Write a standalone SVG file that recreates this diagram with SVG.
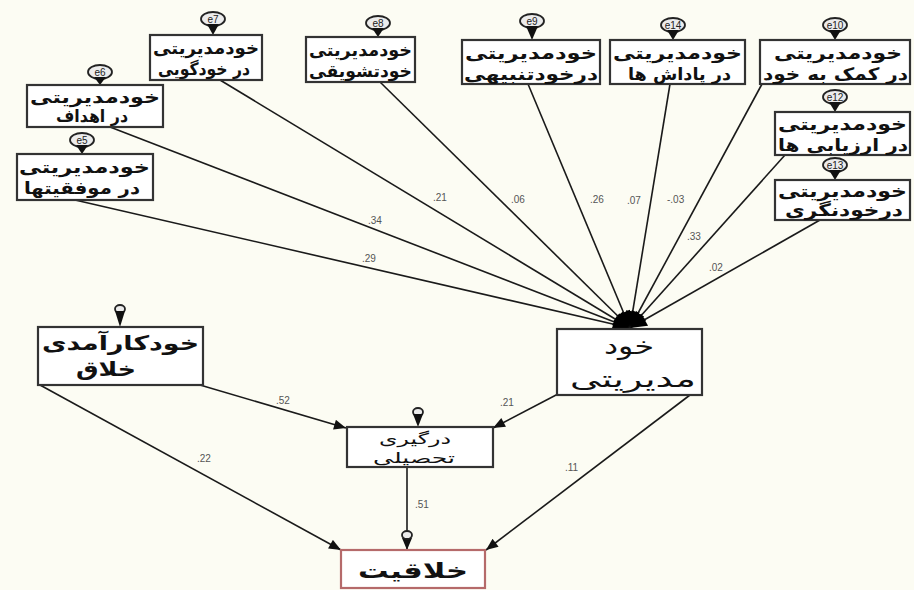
<svg xmlns="http://www.w3.org/2000/svg" width="914" height="590" viewBox="0 0 914 590">
<defs>
<style>
.bx{fill:#ffffff;stroke:#333;stroke-width:2.2}
.bxr{fill:#ffffff;stroke:#b56a6a;stroke-width:2.2}
.t{font-family:"DejaVu Sans",sans-serif;font-size:17px;font-weight:bold;fill:#111;text-anchor:end}
.el{fill:#ececec;stroke:#222;stroke-width:1.8}
.et{font-family:"Liberation Sans",sans-serif;font-size:10px;fill:#222;text-anchor:middle}
.ln{stroke:#1a1a1a;stroke-width:1.6;fill:none}
.lb{font-family:"Liberation Sans",sans-serif;font-size:10px;fill:#555;direction:ltr;unicode-bidi:bidi-override}
.tri{fill:#111}
</style>
<marker id="ar" viewBox="0 0 12 10" refX="12" refY="5" markerWidth="13" markerHeight="10" markerUnits="userSpaceOnUse" orient="auto"><path d="M0,0 L12,5 L0,10 z" fill="#111"/></marker>
<marker id="ab" viewBox="0 0 12 10" refX="12" refY="5" markerWidth="20" markerHeight="14" markerUnits="userSpaceOnUse" orient="auto"><path d="M0,0 L12,5 L0,10 z" fill="#000"/></marker>
</defs>
<rect width="914" height="590" fill="#fcfcf3"/>

<g id="connectors">
<line class="ln" x1="75" y1="200" x2="630" y2="328" marker-end="url(#ab)"/>
<line class="ln" x1="110" y1="127" x2="630" y2="328" marker-end="url(#ab)"/>
<line class="ln" x1="220" y1="80" x2="630" y2="328" marker-end="url(#ab)"/>
<line class="ln" x1="380" y1="82" x2="630" y2="328" marker-end="url(#ab)"/>
<line class="ln" x1="528" y1="84" x2="630" y2="328" marker-end="url(#ab)"/>
<line class="ln" x1="670" y1="84" x2="630" y2="328" marker-end="url(#ab)"/>
<line class="ln" x1="762" y1="84" x2="630" y2="328" marker-end="url(#ab)"/>
<line class="ln" x1="785" y1="155" x2="630" y2="328" marker-end="url(#ab)"/>
<line class="ln" x1="820" y1="220" x2="630" y2="328" marker-end="url(#ab)"/>
<line class="ln" x1="200" y1="385" x2="346" y2="428" marker-end="url(#ar)"/>
<line class="ln" x1="40" y1="385" x2="341" y2="550" marker-end="url(#ar)"/>
<line class="ln" x1="558" y1="394" x2="493" y2="428" marker-end="url(#ar)"/>
<line class="ln" x1="690" y1="395" x2="486" y2="550" marker-end="url(#ar)"/>
<line class="ln" x1="407" y1="467" x2="407" y2="550" marker-end="url(#ar)"/>
<text class="lb" x="362" y="262">.29</text>
<text class="lb" x="368" y="224">.34</text>
<text class="lb" x="433" y="201">.21</text>
<text class="lb" x="511" y="203">.06</text>
<text class="lb" x="590" y="203">.26</text>
<text class="lb" x="627" y="204">.07</text>
<text class="lb" x="667" y="203">-.03</text>
<text class="lb" x="687" y="240">.33</text>
<text class="lb" x="709" y="271">.02</text>
<text class="lb" x="276" y="404">.52</text>
<text class="lb" x="197" y="462">.22</text>
<text class="lb" x="500" y="406">.21</text>
<text class="lb" x="565" y="471">.11</text>
<text class="lb" x="415" y="508">.51</text>
</g>

<g id="n-e5">
<ellipse class="el" cx="82" cy="140" rx="12" ry="7"/><text class="et" x="82" y="144">e5</text>
<polygon class="tri" points="76,145 88,145 82,154"/>
<rect class="bx" x="17" y="154" width="136" height="46"/>
<text class="t" x="150" y="173" textLength="131" lengthAdjust="spacingAndGlyphs">خودمدیریتی</text>
<text class="t" x="140" y="194" textLength="116" lengthAdjust="spacingAndGlyphs">در موفقیتها</text>
</g>
<g id="n-e6">
<ellipse class="el" cx="100" cy="72" rx="12" ry="7"/><text class="et" x="100" y="76">e6</text>
<polygon class="tri" points="94,77 106,77 100,85"/>
<rect class="bx" x="27" y="85" width="136" height="42"/>
<text class="t" x="160" y="103" textLength="130" lengthAdjust="spacingAndGlyphs">خودمدیریتی</text>
<text class="t" x="128" y="122" textLength="72" lengthAdjust="spacingAndGlyphs">در اهداف</text>
</g>
<g id="n-e7">
<ellipse class="el" cx="213" cy="19" rx="12" ry="7"/><text class="et" x="213" y="23">e7</text>
<polygon class="tri" points="207,24 219,24 213,35"/>
<rect class="bx" x="150" y="35" width="112" height="45"/>
<text class="t" x="259" y="54" textLength="106" lengthAdjust="spacingAndGlyphs">خودمدیریتی</text>
<text class="t" x="250" y="75" textLength="92" lengthAdjust="spacingAndGlyphs">در خودگویی</text>
</g>
<g id="n-e8">
<ellipse class="el" cx="378" cy="23" rx="12" ry="7"/><text class="et" x="378" y="27">e8</text>
<polygon class="tri" points="372,28 384,28 378,37"/>
<rect class="bx" x="306" y="37" width="109" height="45"/>
<text class="t" x="412" y="56" textLength="103" lengthAdjust="spacingAndGlyphs">خودمدیریتی</text>
<text class="t" x="412" y="77" textLength="103" lengthAdjust="spacingAndGlyphs">خودتشویقی</text>
</g>
<g id="n-e9">
<ellipse class="el" cx="532" cy="21" rx="12" ry="7"/><text class="et" x="532" y="25">e9</text>
<polygon class="tri" points="526,26 538,26 532,40"/>
<rect class="bx" x="462" y="40" width="138" height="44"/>
<text class="t" x="597" y="59" textLength="132" lengthAdjust="spacingAndGlyphs">خودمدیریتی</text>
<text class="t" x="598" y="80" textLength="134" lengthAdjust="spacingAndGlyphs">درخودتنبیهی</text>
</g>
<g id="n-e14">
<ellipse class="el" cx="673" cy="25" rx="12" ry="7"/><text class="et" x="673" y="29">e14</text>
<polygon class="tri" points="667,30 679,30 673,40"/>
<rect class="bx" x="610" y="40" width="135" height="44"/>
<text class="t" x="742" y="59" textLength="129" lengthAdjust="spacingAndGlyphs">خودمدیریتی</text>
<text class="t" x="731" y="80" textLength="103" lengthAdjust="spacingAndGlyphs">در پاداش ها</text>
</g>
<g id="n-e10">
<ellipse class="el" cx="835" cy="25" rx="12" ry="7"/><text class="et" x="835" y="29">e10</text>
<polygon class="tri" points="829,30 841,30 835,40"/>
<rect class="bx" x="760" y="40" width="150" height="44"/>
<text class="t" x="902" y="59" textLength="128" lengthAdjust="spacingAndGlyphs">خودمدیریتی</text>
<text class="t" x="908" y="80" textLength="145" lengthAdjust="spacingAndGlyphs">در کمک به خود</text>
</g>
<g id="n-e12">
<ellipse class="el" cx="835" cy="97" rx="12" ry="7"/><text class="et" x="835" y="101">e12</text>
<polygon class="tri" points="829,102 841,102 835,112"/>
<rect class="bx" x="775" y="112" width="135" height="43"/>
<text class="t" x="907" y="130" textLength="129" lengthAdjust="spacingAndGlyphs">خودمدیریتی</text>
<text class="t" x="908" y="151" textLength="130" lengthAdjust="spacingAndGlyphs">در ارزیابی ها</text>
</g>
<g id="n-e13">
<ellipse class="el" cx="835" cy="165" rx="12" ry="7"/><text class="et" x="835" y="169">e13</text>
<polygon class="tri" points="829,170 841,170 835,180"/>
<rect class="bx" x="775" y="180" width="135" height="40"/>
<text class="t" x="907" y="197" textLength="129" lengthAdjust="spacingAndGlyphs">خودمدیریتی</text>
<text class="t" x="903" y="216" textLength="118" lengthAdjust="spacingAndGlyphs">درخودنگری</text>
</g>

<g id="n-selfmgmt">
<rect class="bx" x="557" y="329" width="145" height="66"/>
<text class="t" style="font-size:23px;font-weight:normal" x="654" y="354" textLength="50" lengthAdjust="spacingAndGlyphs">خود</text>
<text class="t" style="font-size:23px;font-weight:normal" x="696" y="387" textLength="126" lengthAdjust="spacingAndGlyphs">مدیریتی</text>
</g>
<g id="n-efficacy">
<ellipse class="el" cx="120" cy="309" rx="5" ry="4"/>
<polygon class="tri" points="115,311 125,311 120,327"/>
<rect class="bx" x="38" y="327" width="165" height="58"/>
<text class="t" style="font-size:20px" x="199" y="350" textLength="157" lengthAdjust="spacingAndGlyphs">خودکارآمدی</text>
<text class="t" style="font-size:20px" x="136" y="376" textLength="60" lengthAdjust="spacingAndGlyphs">خلاق</text>
</g>
<g id="n-engagement">
<ellipse class="el" cx="418" cy="412" rx="5" ry="4"/>
<polygon class="tri" points="413,414 423,414 418,427"/>
<rect class="bx" x="347" y="427" width="146" height="40"/>
<text class="t" style="font-size:15px;font-weight:normal" x="451" y="444" textLength="72" lengthAdjust="spacingAndGlyphs">درگیری</text>
<text class="t" style="font-size:15px;font-weight:normal" x="455" y="463" textLength="82" lengthAdjust="spacingAndGlyphs">تحصیلی</text>
</g>
<g id="n-creativity">
<ellipse class="el" cx="407" cy="535" rx="5" ry="4"/>
<rect class="bxr" x="341" y="550" width="144" height="38"/>
<text class="t" style="font-size:21px" x="468" y="578" textLength="110" lengthAdjust="spacingAndGlyphs">خلاقیت</text>
</g>
</svg>
